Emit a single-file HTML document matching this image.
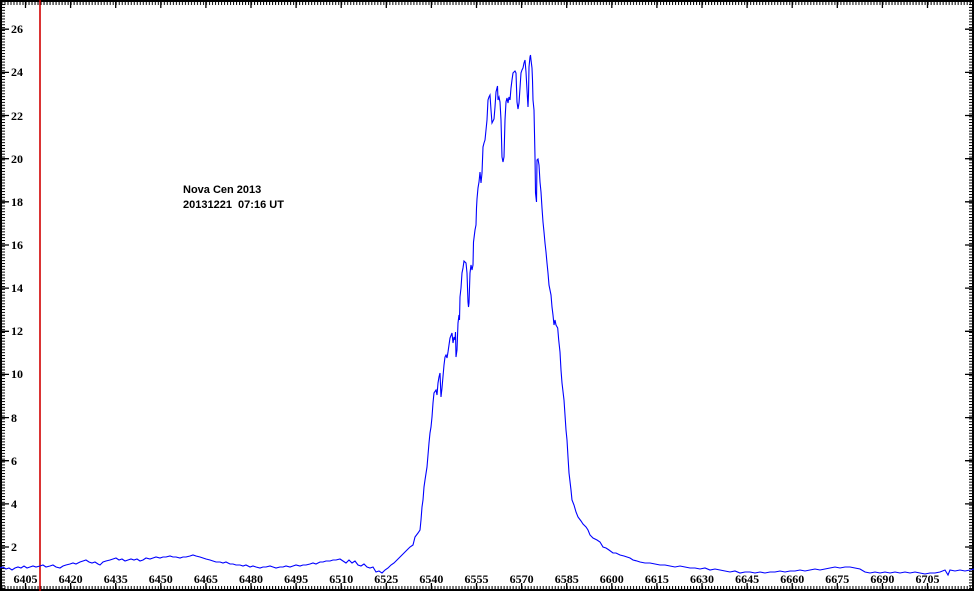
<!DOCTYPE html>
<html><head><meta charset="utf-8"><style>
html,body{margin:0;padding:0;background:#fff;}
svg{display:block;}
.t{font-family:"Liberation Sans",Arial,sans-serif;font-weight:bold;font-size:11px;fill:#000;}
.a{font-family:"Liberation Serif","Times New Roman",serif;font-weight:bold;font-size:12px;fill:#000;}
</style></head><body>
<svg width="974" height="591" viewBox="0 0 974 591" xmlns="http://www.w3.org/2000/svg">
<defs>
<pattern id="px" patternUnits="userSpaceOnUse" x="1.45" y="0" width="3.007" height="10"><rect x="0" y="0" width="1" height="10" fill="#000"/></pattern>
<pattern id="py" patternUnits="userSpaceOnUse" x="0" y="1.2" width="10" height="2.877"><rect x="0" y="0" width="10" height="1" fill="#000"/></pattern>
</defs>
<rect width="974" height="591" fill="#fff"/>
<rect x="0" y="0" width="974" height="5" fill="url(#px)"/>
<rect x="0" y="586" width="974" height="5" fill="url(#px)"/>
<rect x="0" y="0" width="5" height="591" fill="url(#py)"/>
<rect x="969" y="0" width="5" height="591" fill="url(#py)"/>
<rect x="0" y="0" width="974" height="2" fill="#000"/>
<rect x="0" y="589" width="974" height="2" fill="#000"/>
<rect x="0" y="0" width="2" height="591" fill="#000"/>
<rect x="972" y="0" width="2" height="591" fill="#000"/>
<g stroke="#000" stroke-width="1.3">
<path d="M25.5 0v8M70.6 0v8M115.7 0v8M160.8 0v8M205.9 0v8M251 0v8M296.1 0v8M341.2 0v8M386.3 0v8M431.4 0v8M476.5 0v8M521.6 0v8M566.7 0v8M611.8 0v8M656.9 0v8M702 0v8M747.1 0v8M792.2 0v8M837.3 0v8M882.4 0v8M927.5 0v8"/>
<path d="M25.5 591v-8M70.6 591v-8M115.7 591v-8M160.8 591v-8M205.9 591v-8M251 591v-8M296.1 591v-8M341.2 591v-8M386.3 591v-8M431.4 591v-8M476.5 591v-8M521.6 591v-8M566.7 591v-8M611.8 591v-8M656.9 591v-8M702 591v-8M747.1 591v-8M792.2 591v-8M837.3 591v-8M882.4 591v-8M927.5 591v-8"/>
<path d="M0 547h9M0 503.9h9M0 460.7h9M0 417.6h9M0 374.4h9M0 331.3h9M0 288.1h9M0 245h9M0 201.8h9M0 158.7h9M0 115.5h9M0 72.4h9M0 29.2h9"/>
<path d="M974 547h-9M974 503.9h-9M974 460.7h-9M974 417.6h-9M974 374.4h-9M974 331.3h-9M974 288.1h-9M974 245h-9M974 201.8h-9M974 158.7h-9M974 115.5h-9M974 72.4h-9M974 29.2h-9"/>
</g>
<g class="a">
<text x="11" y="551">2</text>
<text x="11" y="508">4</text>
<text x="11" y="465">6</text>
<text x="11" y="422">8</text>
<text x="11" y="378">10</text>
<text x="11" y="335">12</text>
<text x="11" y="292">14</text>
<text x="11" y="249">16</text>
<text x="11" y="206">18</text>
<text x="11" y="163">20</text>
<text x="11" y="120">22</text>
<text x="11" y="76">24</text>
<text x="11" y="33">26</text>
</g>
<g class="a" text-anchor="middle">
<text x="25.5" y="583">6405</text>
<text x="70.6" y="583">6420</text>
<text x="115.7" y="583">6435</text>
<text x="160.8" y="583">6450</text>
<text x="205.9" y="583">6465</text>
<text x="251" y="583">6480</text>
<text x="296.1" y="583">6495</text>
<text x="341.2" y="583">6510</text>
<text x="386.3" y="583">6525</text>
<text x="431.4" y="583">6540</text>
<text x="476.5" y="583">6555</text>
<text x="521.6" y="583">6570</text>
<text x="566.7" y="583">6585</text>
<text x="611.8" y="583">6600</text>
<text x="656.9" y="583">6615</text>
<text x="702" y="583">6630</text>
<text x="747.1" y="583">6645</text>
<text x="792.2" y="583">6660</text>
<text x="837.3" y="583">6675</text>
<text x="882.4" y="583">6690</text>
<text x="927.5" y="583">6705</text>
</g>
<line x1="40" y1="0" x2="40" y2="591" stroke="#d00000" stroke-width="1.6"/>
<polyline fill="none" stroke="#0000ff" stroke-width="1.1" stroke-linejoin="miter" points="0,568 3,567 6,569 9,568 12,570 15,568 18,567 21,568 24,566 27,568 30,567 33,566 36,567 40,566 43,565 46,567 50,566 53,565 56,567 60,568 63,566 66,565 70,564 73,563 76,564 80,562 83,561 86,560 89,562 92,563 95,562 98,564 100,565 103,562 106,561 110,560 113,559 116,558 119,560 122,559 125,561 128,560 131,559 134,560 137,559 140,561 143,560 146,558 150,559 153,558 156,557 160,558 163,557 166,557 170,556 173,557 176,557 180,558 183,557 186,557 190,556 193,555 196,556 200,557 203,558 206,559 210,560 213,561 216,562 220,562 223,563 226,562 230,564 233,564 236,565 240,565 243,566 246,565 250,567 253,566 256,567 260,568 263,567 266,567 270,566 273,567 276,568 280,567 283,567 286,566 290,567 293,566 296,565 300,566 303,565 306,565 310,564 313,563 316,564 320,562 323,562 326,561 330,561 333,560 336,560 340,559 343,561 346,563 349,560 352,563 355,561 358,565 361,566 364,564 367,567 370,568 373,567 376,572 379,571 382,573 385,570 388,568 391,565 394,563 397,560 400,557 402,555 405,552 407,550 410,547 413,545 415,537 418,533 420,530 421,520 422,507 423,500 424,487 425,480 427,467 428,455 429,443 430,433 431,427 432,417 433,403 434,393 436,390 437,395 438,383 439,377 440,373 441,397 442,388 444,365 445,357 446,355 447,358 448,352 449,345 450,338 452,333 453,343 454,337 455,340 455.5,332 456,357 457,350 458,323 459,315 459.5,320 460,297 461,288 462,273 463,268 464,261 466,263 467,273 468,302 468.5,307 469,303 470,273 471,265 472,270 473,265 473.5,242 475,230 476,225 476.5,208 477,199 478,188 479,182 480,172 481,183 482,173 483,147 484,143 485,140 486,130 487,120 488,100 489,97 490,95 491,110 492,123 494,119 495,107 496,92 497,88 497.5,86 498,100 499,97 500,102 501,120 502,157 503,162 504,157 505,120 506,102 507,98 508,103 509,97 510,100 511,88 512,80 513,73 514,72 515,71 516,73 517,102 518,109 519,103 520,88 521,73 522,70 523,68 524,63 525,60 526,72 527,90 528,107 528.5,95 529,67 530,57 530.5,55 531,60 532,68 532.5,80 533,100 534,110 535,157 535.5,193 536.5,202 537,160 538,159 539,165 540,182 541,192 542,208 543,222 544,232 545,243 546,252 547,263 548,273 549,285 550,290 551,295 552,307 553,315 554,325 555,320 556,325 557.7,328 558.7,340 560,352 561,370 562,383 564,400 565,415 566,430 567,440 568,457 569,473 571,490 572,500 574,505 576,512 578,517 581,521 583,524 586,527 588,530 590,535 593,538 597,540 600,542 603,547 606,548 609,550 613,553 616,553 620,555 624,556 627,557 630,558 633,560 637,561 640,562 645,563 650,563 655,564 660,565 665,565 670,566 675,567 680,566 685,567 690,568 695,568 700,569 705,568 710,570 715,569 720,570 725,571 730,572 735,571 740,573 745,572 750,572 755,573 760,572 765,573 770,572 775,572 780,571 785,572 790,571 795,571 800,570 805,571 810,570 815,569 820,570 825,569 830,568 835,567 840,568 845,567 850,567 855,568 860,569 865,572 870,573 875,572 880,573 885,572 890,573 895,572 900,573 905,572 910,573 915,572 920,573 925,574 930,573 935,573 940,572 945,570 948,575 950,570 955,571 960,570 965,571 970,570 974,569"/>
<text class="t" x="183" y="193">Nova Cen 2013</text>
<text class="t" x="183" y="208" xml:space="preserve">20131221  07:16 UT</text>
</svg>
</body></html>
